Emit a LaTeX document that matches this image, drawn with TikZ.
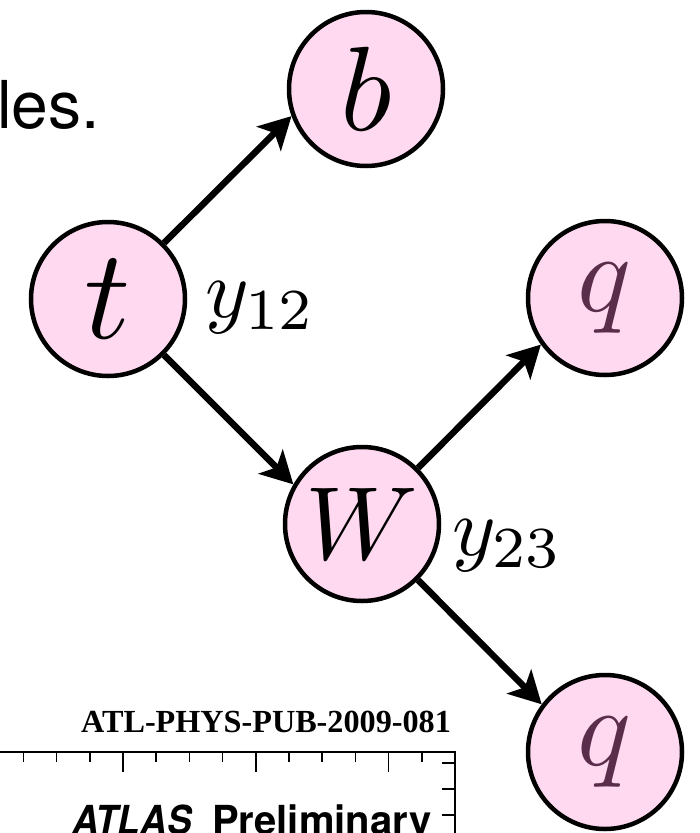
\documentclass[tikz,border=0pt]{standalone}
\usepackage{graphicx}
\usepackage{fontspec}
\newfontfamily\helv{TeX Gyre Heros}
\newfontfamily\timesf{Liberation Serif}
\usetikzlibrary{arrows.meta}
\definecolor{bubble}{RGB}{255,217,240}
\definecolor{qcol}{RGB}{90,45,75}
\tikzset{
  bub/.style={circle, draw=black, line width=4.5pt, fill=bubble, minimum size=154pt, inner sep=0pt},
  arr/.style={line width=6.5pt, -{Stealth[length=32pt,width=34pt,inset=8pt]}},
  lbl/.style={anchor=base west, inner sep=0pt},
  frame/.style={line width=2pt},
  tick/.style={line width=1.5pt},
}
\begin{document}
\begin{tikzpicture}[x=1pt,y=-1pt]
\useasboundingbox (0,0) rectangle (700,833);
% partial caption
\node[anchor=base west, inner sep=0pt, font=\helv\fontsize{66}{66}\selectfont] (les) at (-3,128) {les.};
% bubbles
\node[bub] (t) at (108,299) {\scalebox{12.8}{$t$}};
\node[bub] (b) at (366,89) {\scalebox{12}{$b$}};
\node[bub] (W) at (362,524) {\scalebox{10.4}{$W$}};
\node[bub, text=qcol] (qa) at (605,298) {\scalebox{11.2}{$q$}};
\node[bub, text=qcol] (qb) at (605,752) {\scalebox{11.2}{$q$}};
% arrows
\draw[arr] (t.45) -- (b.200);
\draw[arr] (t.-45) -- (W.150);
\draw[arr] (W.45) -- (qa.216);
\draw[arr] (W.-45) -- (qb.143);
% labels
\node[lbl] (y12) at (205,317) {\scalebox{8.3}{$y_{12}$}};
\node[lbl] (y23) at (452,555) {\scalebox{8.3}{$y_{23}$}};
% plot fragment
\node[anchor=base west, inner sep=0pt, font=\timesf\bfseries\fontsize{32.2}{32.2}\selectfont] (ref) at (81,732) {ATL-PHYS-PUB-2009-081};
\draw[frame] (-5,752) -| (455,850);
\foreach \k in {-3,...,10} {
  \draw[tick] ({123+33.2*\k},752) -- ++(0,10);
}
\foreach \k in {0,1,2} {
  \draw[tick] ({123+132.8*\k},752) -- ++(0,20);
}
\foreach \yy in {763,789,815} {
  \draw[tick] (455,\yy) -- ++(-13,0);
}
\node[anchor=base west, inner sep=0pt, font=\helv\bfseries\fontsize{40}{40}\selectfont] (atlas) at (72,834) {\makebox[140pt][l]{\scalebox{0.92}[1]{\itshape ATLAS}}Preliminary};
\end{tikzpicture}
\end{document}
